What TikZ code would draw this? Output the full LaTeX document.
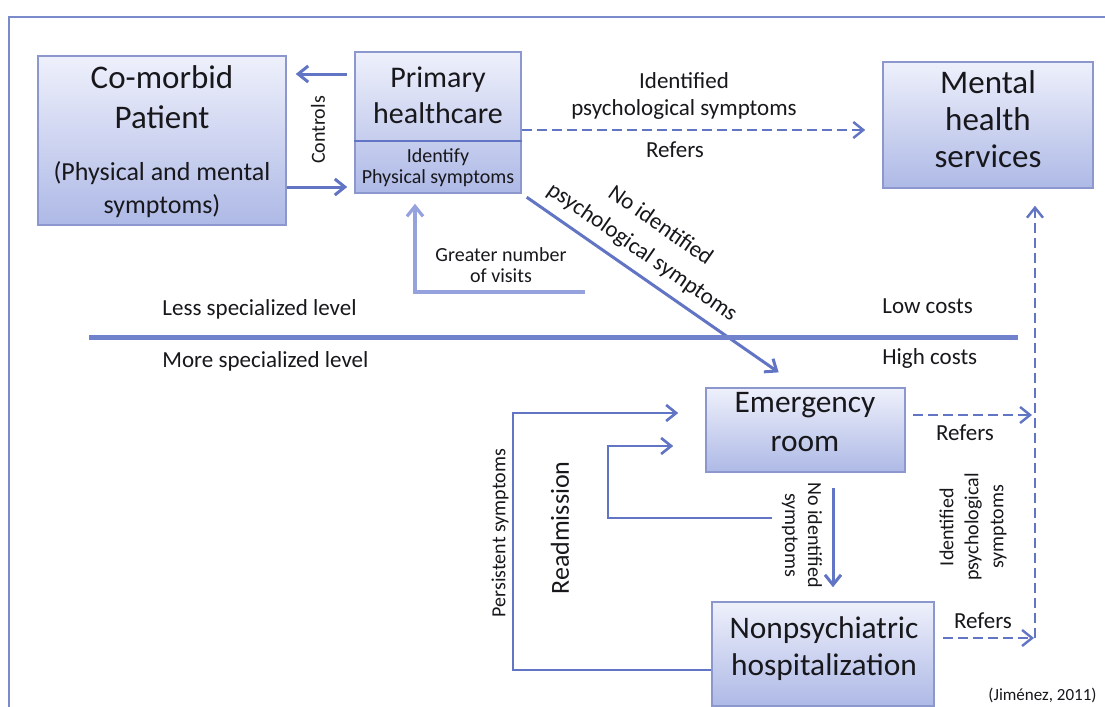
\documentclass[tikz,border=0pt]{standalone}
\usepackage{fontspec}
\setmainfont{Carlito}
\usetikzlibrary{arrows.meta, calc}

\definecolor{flowblue}{RGB}{98,116,196}
\definecolor{levelblue}{RGB}{112,130,204}
\definecolor{visitblue}{RGB}{150,162,222}
\definecolor{frameblue}{RGB}{122,138,202}
\definecolor{boxedge}{RGB}{140,152,205}
\definecolor{boxtop}{RGB}{238,240,251}
\definecolor{boxbot}{RGB}{174,185,230}
\definecolor{inktext}{RGB}{24,24,28}

\newcommand{\bigfont}{\fontsize{15.5}{19}\selectfont}
\newcommand{\midfont}{\fontsize{11.5}{13.5}\selectfont}
\newcommand{\smallfont}{\fontsize{10}{10.5}\selectfont}

\begin{document}
\begin{tikzpicture}[
    x=0.5pt, y=-0.5pt,
    >={Straight Barb[length=5pt, width=8pt]},
    box/.style={draw=boxedge, line width=0.8pt, top color=boxtop, bottom color=boxbot, inner sep=0pt},
    bigtxt/.style={font=\bigfont, align=center, text=inktext, inner sep=0pt},
    midtxt/.style={font=\midfont, align=center, text=inktext, inner sep=0pt},
    smalltxt/.style={font=\smallfont, align=center, text=inktext, inner sep=0pt},
    flow/.style={->, draw=flowblue, line width=1.5pt},
    loopflow/.style={->, draw=flowblue, line width=1.3pt},
    visitflow/.style={->, draw=visitblue, line width=1.6pt},
    refer/.style={->, draw=flowblue, line width=1.2pt, dash pattern=on 5pt off 2.5pt}
]
\useasboundingbox (0,0) rectangle (1105,707);
\clip (0,0) rectangle (1105,707);
\fill[white] (0,0) rectangle (1105,707);
\draw[frameblue, line width=1pt] (9,17) rectangle (1140,740);

\node[box, minimum width=124pt, minimum height=84.5pt] (com) at (162,140.5) {};
\node[bigtxt, font=\fontsize{16.5}{20}\selectfont] (comtitle) at (162,97) {Co-morbid\\Patient};
\node[midtxt, font=\fontsize{13}{16.5}\selectfont] (comsub) at (162,190) {(Physical and mental\\symptoms)};

\node[box, minimum width=83pt, minimum height=70.5pt] (prim) at (438,122.5) {};
\draw[flowblue, line width=1pt] (prim.west |- 0,141) -- (prim.east |- 0,141);
\node[bigtxt, font=\fontsize{15}{18}\selectfont] (primtitle) at (438,95) {Primary\\healthcare};
\node[smalltxt] (primsub) at (438,167.5) {Identify\\Physical symptoms};

\node[box, minimum width=105pt, minimum height=63pt] (mental) at (988,125) {};
\node[bigtxt, font=\fontsize{16.5}{18.5}\selectfont] (mentaltxt) at (988,119) {Mental\\health\\services};

\node[box, minimum width=99.5pt, minimum height=42pt] (emer) at (805.5,430) {};
\node[bigtxt, font=\fontsize{15.7}{19.5}\selectfont] (emertxt) at (805,422.5) {Emergency\\room};

\node[box, minimum width=111pt, minimum height=52pt] (nonp) at (823,654) {};
\node[bigtxt, font=\fontsize{15.7}{18.5}\selectfont] (nonptxt) at (824,649) {Nonpsychiatric\\hospitalization};

\draw[flow, shorten <=3.5pt, shorten >=4.5pt] (prim.west |- 0,74) -- (com.east |- 0,74);
\draw[flow, shorten >=3.5pt] (com.east |- 0,187) -- (prim.west |- 0,187);
\node[smalltxt, rotate=90] (ctrl) at (318,130) {Controls};

\draw[refer, shorten >=8.5pt] (prim.east |- 0,130) -- (mental.west |- 0,130);
\node[midtxt] (idlbl) at (684,96) {Identified\\psychological symptoms};
\node[midtxt, anchor=base] (refers1) at (675,157) {Refers};

\draw[flow, shorten <=3pt, shorten >=13pt] (prim.south east) -- (emer.north -| 800,0)
    node[midtxt, font=\fontsize{11.5}{16}\selectfont, sloped, above=4.5pt, pos=0.39] (noidpsy) {No identified\\psychological symptoms};

\coordinate (visitend) at (585,292);
\draw[visitflow, shorten >=5pt] (visitend) -| (prim.south -| 415,0);
\node[smalltxt] (visits) at (501,265.5) {Greater number\\of visits};

\coordinate (levelL) at (89,337);
\coordinate (levelR) at (1018,337);
\draw[levelblue, line width=2.5pt] (levelL) -- (levelR);
\node[midtxt, anchor=base west] (less) at (162,315) {Less specialized level};
\node[midtxt, anchor=base west] (more) at (162,367) {More specialized level};
\node[midtxt, anchor=base west] (low) at (882,313) {Low costs};
\node[midtxt, anchor=base west] (high) at (882,364) {High costs};

\coordinate (mhbot) at (1035,638);
\draw[refer, shorten >=8.5pt] (mhbot) -- (mental.south -| mhbot);
\draw[refer, shorten <=3.5pt, shorten >=1.5pt] (emer.east |- 0,415) -- (mhbot |- 0,415);
\node[midtxt, anchor=base] (refers2) at (965,440) {Refers};
\draw[refer, shorten <=4pt, shorten >=0.5pt] (nonp.east |- mhbot) -- (mhbot);
\node[midtxt, anchor=base] (refers3) at (983,628) {Refers};
\node[smalltxt, font=\fontsize{10}{12.5}\selectfont, rotate=90] (idpsy) at (973,527) {Identified\\psychological\\symptoms};

\draw[flow, shorten <=7.5pt, shorten >=7pt] (emer.south -| 833,0) -- (nonp.north -| 833,0);
\node[smalltxt, font=\fontsize{10}{11.5}\selectfont, rotate=-90] (noidsym) at (802,535) {No identified\\symptoms};

\coordinate (readmstart) at (772,518);
\draw[loopflow, shorten >=16pt] (readmstart) -| (608,446) -- (emer.west |- 0,446);
\node[midtxt, font=\fontsize{13}{15}\selectfont, rotate=90] (readm) at (560,528) {Readmission};

\draw[loopflow, shorten >=13.5pt] (nonp.west |- 0,670) -| (513,413) -- (emer.west |- 0,413);
\node[smalltxt, rotate=90] (persist) at (500,533) {Persistent symptoms};

\node[smalltxt, font=\fontsize{8.5}{10}\selectfont, anchor=base east] (credit) at (1097,700) {(Jiménez, 2011)};
\end{tikzpicture}
\end{document}
